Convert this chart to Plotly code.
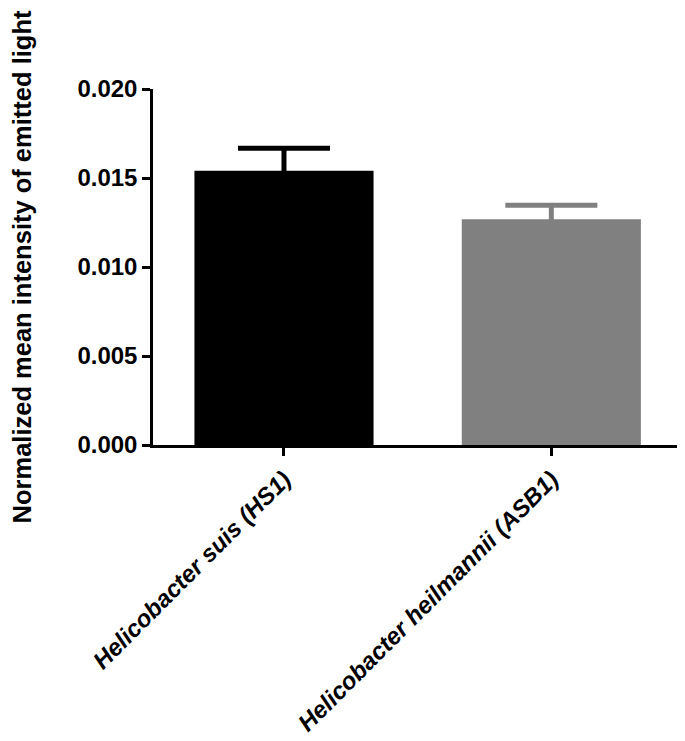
import plotly.graph_objects as go

categories = ["Helicobacter suis (HS1)", "Helicobacter heilmannii (ASB1)"]
means = [0.01541, 0.01268]
errors = [0.00126, 0.00079]
colors = ["#000000", "#808080"]
y_ticks = [0.000, 0.005, 0.010, 0.015, 0.020]

fig = go.Figure()
for cat, m, e, c in zip(categories, means, errors, colors):
    fig.add_trace(go.Bar(
        x=[cat], y=[m], width=0.67,
        marker=dict(color=c, line=dict(width=0)),
        error_y=dict(type="data", array=[e], symmetric=True,
                     color=c, thickness=5, width=46),
        showlegend=False,
    ))

font_family = "Liberation Sans, Arial, sans-serif"
fig.update_layout(
    width=685, height=741,
    margin=dict(l=141, r=8, t=81, b=304),
    paper_bgcolor="white", plot_bgcolor="white",
    barmode="overlay",
    font=dict(family=font_family, color="black"),
    xaxis=dict(
        type="category", range=[-0.49, 1.5],
        showline=True, linecolor="black", linewidth=2.5,
        ticks="outside", ticklen=8, tickwidth=2.5, tickcolor="black",
        tickangle=-45, showgrid=False, zeroline=False,
        tickfont=dict(family=font_family, size=24, weight="bold",
                      style="italic", color="black"),
    ),
    yaxis=dict(
        range=[0, 0.020], tickvals=y_ticks, tickformat=".3f",
        showline=True, linecolor="black", linewidth=2.5,
        ticks="outside", ticklen=8, tickwidth=2.5, tickcolor="black",
        showgrid=False, zeroline=False,
        tickfont=dict(family=font_family, size=24, weight="bold", color="black"),
        title=dict(text="Normalized mean intensity of emitted light",
                   font=dict(family=font_family, size=25.5, weight="bold",
                             color="black"),
                   standoff=44),
    ),
)

fig.write_html("out.html")
